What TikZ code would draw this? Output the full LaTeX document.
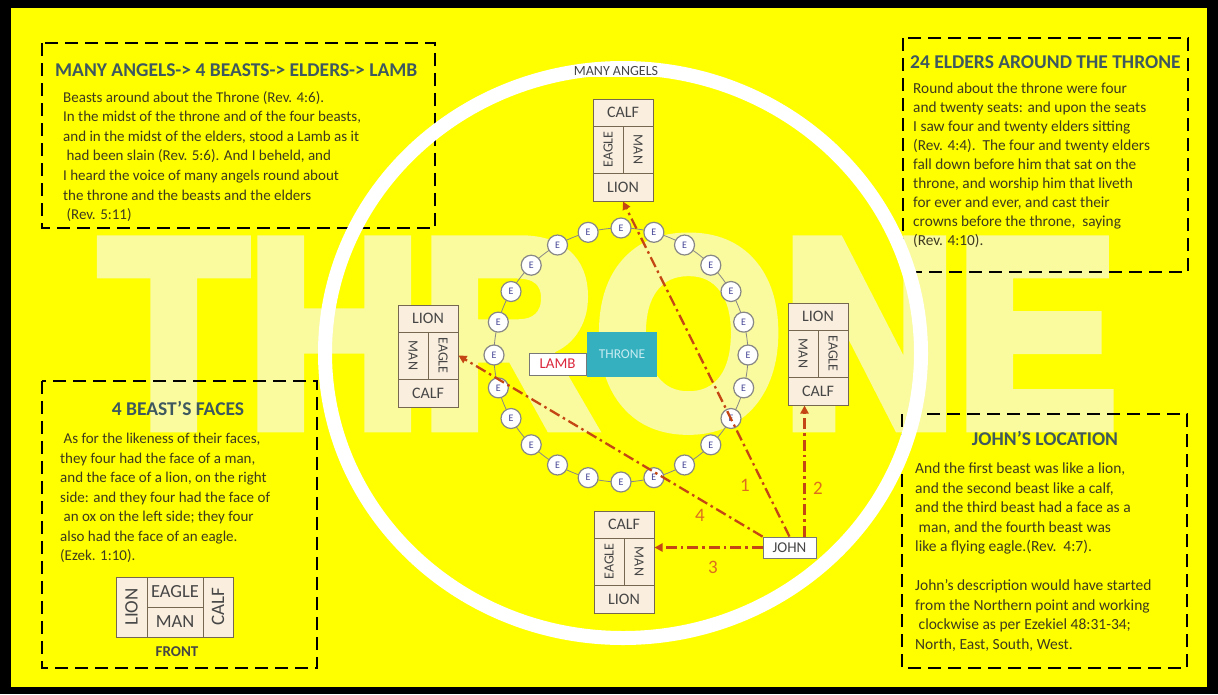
\documentclass[tikz,border=0pt]{standalone}
\usepackage{fontspec}
\setmainfont{Carlito}
\newfontfamily\markfont[FakeBold=5]{Liberation Sans Bold}
\usepackage{graphicx}
\usetikzlibrary{arrows.meta}
\definecolor{bgyellow}{RGB}{255,255,0}
\definecolor{markyellow}{RGB}{250,250,158}
\definecolor{bodytext}{RGB}{62,58,30}
\definecolor{titleslate}{RGB}{62,88,96}
\definecolor{cellfill}{RGB}{250,238,222}
\definecolor{cellline}{RGB}{118,104,80}
\definecolor{celltext}{RGB}{70,70,70}
\definecolor{eldergray}{RGB}{135,135,135}
\definecolor{elderblue}{RGB}{70,70,150}
\definecolor{throneteal}{RGB}{52,176,190}
\definecolor{thronetext}{RGB}{200,236,242}
\definecolor{lambred}{RGB}{220,40,60}
\definecolor{taggray}{RGB}{120,120,120}
\definecolor{walkred}{RGB}{196,70,20}
\definecolor{numorange}{RGB}{220,110,30}

\begin{document}
\begin{tikzpicture}[x=1pt,y=-1pt,
	panel/.style={draw=black,line width=2.6pt,dash pattern=on 13pt off 7pt},
	title/.style={font=\fontsize{19.5}{22}\selectfont\bfseries,text=titleslate,inner sep=0pt},
	body/.style={text=bodytext,align=left,inner sep=0pt,anchor=north west},
	cell/.style={draw=cellline,fill=cellfill,line width=1pt,inner sep=0pt,font=\fontsize{16}{16}\selectfont,text=celltext},
	side/.style={cell,minimum width=30pt,minimum height=47pt,font=\fontsize{14}{14}\selectfont},
	elder/.style={circle,draw=eldergray,line width=1.2pt,fill=white,minimum size=20pt,inner sep=0pt,font=\fontsize{10}{10}\selectfont,text=elderblue},
	tag/.style={draw=taggray,fill=white,line width=0.8pt,inner sep=0pt,font=\fontsize{15}{15}\selectfont},
	walk/.style={draw=walkred,line width=2.3pt,dash pattern=on 11pt off 4pt on 2.5pt off 4pt,-{Triangle[length=8pt,width=8pt]}},
	num/.style={font=\fontsize{19}{19}\selectfont,text=numorange,inner sep=0pt}]

				% background and watermark
				\fill[black] (0,0) rectangle (1218,694);
				\fill[bgyellow] (11,8) rectangle (1207,687);
				\node[anchor=north west,inner sep=0pt,text=markyellow](mark) at (100,239) {\resizebox{1016pt}{186pt}{\markfont THRONE}};

				% text panels
				\draw[panel] (42,43) rectangle (435,228);
				\draw[panel] (903,38) rectangle (1188,272);
				\draw[panel] (42,381) rectangle (317,668);
				\draw[panel] (902,414) rectangle (1187,668);

				\node[title,anchor=west](t1) at (55,70) {MANY ANGELS-> 4 BEASTS-> ELDERS-> LAMB};
				\node[body,font=\fontsize{15}{19.6}\selectfont](b1) at (63,91) {Beasts around about the Throne (Rev. 4:6).\\
					In the midst of the throne and of the four beasts,\\
					and in the midst of the elders, stood a Lamb as it\\
					\ had been slain (Rev. 5:6). And I beheld, and\\
					I heard the voice of many angels round about\\
					the throne and the beasts and the elders\\
					\ (Rev. 5:11)};

				\node[title,anchor=west](t2) at (910,62) {24 ELDERS AROUND THE THRONE};
				\node[body,font=\fontsize{15.3}{19}\selectfont](b2) at (913,83) {Round about the throne were four\\
					and twenty seats: and upon the seats\\
					I saw four and twenty elders sitting\\
					(Rev. 4:4).\ \ The four and twenty elders\\
					fall down before him that sat on the\\
					throne, and worship him that liveth\\
					for ever and ever, and cast their\\
					crowns before the throne,\ \ saying\\
					(Rev. 4:10).};

				\node[title](t3) at (178,408) {4 BEAST'S FACES};
				\node[body,font=\fontsize{15}{19.5}\selectfont](b3) at (60,433) {\ As for the likeness of their faces,\\
					they four had the face of a man,\\
					and the face of a lion, on the right\\
					side: and they four had the face of\\
					\ an ox on the left side; they four\\
					also had the face of an eagle.\\
					(Ezek. 1:10).};

				% legend of the faces
				\node[cell,minimum width=31pt,minimum height=60pt,font=\fontsize{19}{19}\selectfont](fLion) at (131.5,607) {\rotatebox{90}{LION}};
				\node[cell,minimum width=56pt,minimum height=30pt,font=\fontsize{18.5}{18.5}\selectfont](fEagle) at (175,592) {EAGLE};
				\node[cell,minimum width=56pt,minimum height=30pt,font=\fontsize{18.5}{18.5}\selectfont](fMan) at (175,622) {MAN};
				\node[cell,minimum width=30pt,minimum height=60pt,font=\fontsize{19}{19}\selectfont](fCalf) at (218,607) {\rotatebox{90}{CALF}};
				\node[font=\fontsize{15}{15}\selectfont\bfseries,text=celltext](front) at (177,652) {FRONT};

				\node[title](t4) at (1045,438) {JOHN'S LOCATION};
				\node[body,font=\fontsize{15.5}{19.5}\selectfont](b4) at (915,463) {And the first beast was like a lion,\\
					and the second beast like a calf,\\
					and the third beast had a face as a\\
					\ man, and the fourth beast was\\
					like a flying eagle.(Rev.\ \ 4:7).\\[19.5pt]
					John's description would have started\\
					from the Northern point and working\\
					\ clockwise as per Ezekiel 48:31-34;\\
					North, East, South, West.};

				% many angels ring
				\draw[white,line width=14pt] (623,353) ellipse [x radius=298,y radius=285];
				\node[fill=white,inner sep=1pt,font=\fontsize{14}{14}\selectfont,text=celltext](angels) at (616,71) {MANY ANGELS};

				% four beasts
				\node[cell,minimum width=60pt,minimum height=27pt](nCalf) at (623,112.5) {CALF};
				\node[side](nEagle) at (608,149.5) {\rotatebox{90}{EAGLE}};
				\node[side](nMan) at (638,149.5) {\rotatebox{-90}{MAN}};
				\node[cell,minimum width=60pt,minimum height=28pt](nLion) at (623,187) {LION};

				\node[cell,minimum width=60pt,minimum height=27pt](wLion) at (428,318.5) {LION};
				\node[side](wMan) at (413,355.5) {\rotatebox{-90}{MAN}};
				\node[side](wEagle) at (443,355.5) {\rotatebox{-90}{EAGLE}};
				\node[cell,minimum width=60pt,minimum height=28pt](wCalf) at (428,393) {CALF};

				\node[cell,minimum width=60pt,minimum height=27pt](eLion) at (818,316.5) {LION};
				\node[side](eMan) at (803,353.5) {\rotatebox{-90}{MAN}};
				\node[side](eEagle) at (833,353.5) {\rotatebox{-90}{EAGLE}};
				\node[cell,minimum width=60pt,minimum height=28pt](eCalf) at (818,391) {CALF};

				\node[cell,minimum width=60pt,minimum height=27pt](sCalf) at (624,524.5) {CALF};
				\node[side](sEagle) at (609,561.5) {\rotatebox{90}{EAGLE}};
				\node[side](sMan) at (639,561.5) {\rotatebox{-90}{MAN}};
				\node[cell,minimum width=60pt,minimum height=28pt](sLion) at (624,599) {LION};

				% elders
				\draw[eldergray,line width=0.8pt] (621,355) circle (127);
				\foreach \a in {0,15,...,345}
					\node[elder](el\a) at ({621+127*cos(\a)},{355+127*sin(\a)}) {E};

				% throne and lamb
				\node[fill=throneteal,minimum width=70pt,minimum height=45pt,inner sep=0pt,font=\fontsize{13.5}{13.5}\selectfont,text=thronetext](throne) at (622,354.5) {THRONE};
				\node[tag,minimum width=57pt,minimum height=22pt,text=lambred](lamb) at (557.5,364) {LAMB};

				% john and his four looks
				\node[tag,minimum width=53pt,minimum height=21pt,text=celltext](john) at (789.5,547.5) {JOHN};
				\draw[walk] (john.north) to (nLion.south);
				\draw[walk] (john.36) to (john.36 |- eCalf.south);
				\draw[walk] (john.west) to (john.west -| sMan.east);
				\draw[walk] (john.north west) to (wEagle.east);
				\node[num](n1) at (745,485) {1};
				\node[num](n2) at (818,488) {2};
				\node[num](n3) at (713,567) {3};
				\node[num](n4) at (700,515) {4};
			\end{tikzpicture}
\end{document}
